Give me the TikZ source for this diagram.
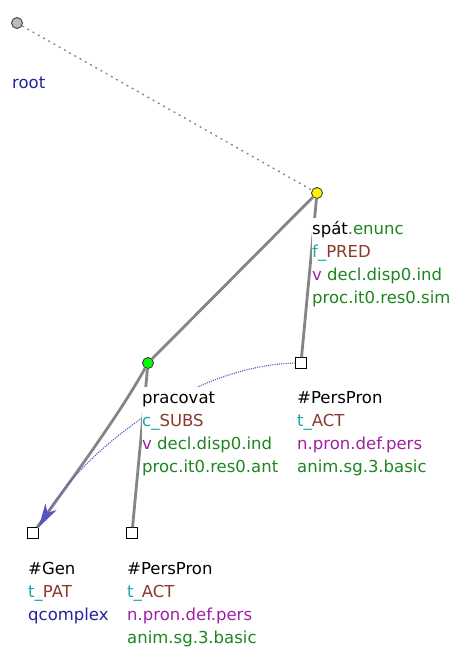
\documentclass[tikz,border=0pt]{standalone}
\usepackage{fontspec}
\setmainfont{DejaVu Sans}
\usepackage{xcolor}
\usepackage{tikz}
\usetikzlibrary{arrows.meta,backgrounds}
\pgfdeclarelayer{front}
\pgfsetlayers{background,main,front}
\definecolor{tgreen}{HTML}{1E861E}
\definecolor{tteal}{HTML}{1FA5A5}
\definecolor{tbrown}{HTML}{8A3A2C}
\definecolor{tpurple}{HTML}{A020A0}
\definecolor{tnavy}{HTML}{2222A0}
\definecolor{tedge}{HTML}{858585}
\definecolor{tcoref}{HTML}{5555C0}
\newcommand{\tfunc}[2]{\textcolor{tteal}{#1\_}\textcolor{tbrown}{#2}}
\tikzset{
  nd/.style={circle,draw=black!75,line width=0.9pt,minimum size=11pt,inner sep=0pt},
  sq/.style={rectangle,draw=black,fill=white,line width=0.9pt,minimum size=10.5pt,inner sep=0pt},
  edg/.style={draw=tedge,line width=2.8pt},
  rootln/.style={draw=tedge,line width=1.3pt,dash pattern=on 2pt off 4pt},
  coref/.style={draw=tcoref,line width=1.2pt,dash pattern=on 1pt off 1.2pt,
    -{Stealth[length=24pt,width=13pt,inset=7pt,fill=tcoref]}},
  lbl/.style={anchor=north west,inner sep=0pt,fill=white,align=left,font=\fontsize{16.5}{23}\selectfont}}

\begin{document}
\begin{tikzpicture}[x=1pt,y=-1pt]
\useasboundingbox (0,0) rectangle (453,648);
% tree nodes
\node[nd,fill=black!27] (root) at (17,23) {};
\node[nd,fill=yellow] (spat) at (317,193) {};
\node[nd,fill=green] (prac) at (148,363) {};
\node[sq] (pp1) at (301,363) {};
\node[sq] (gen) at (33,533) {};
\node[sq] (pp2) at (132,533) {};
% labels
\begin{pgfonlayer}{front}
\node[lbl] (rootl) at (12,72) {\strut\textcolor{tnavy}{root}};
\node[lbl] (spatl) at (312,218) {\strut spát\textcolor{tgreen}{.enunc}\\
  \tfunc{f}{PRED}\\
  \textcolor{tpurple}{v}\ \textcolor{tgreen}{decl.disp0.ind}\\
  \textcolor{tgreen}{proc.it0.res0.sim}};
\node[lbl] (pracl) at (142,387) {\strut pracovat\\
  \tfunc{c}{SUBS}\\
  \textcolor{tpurple}{v}\ \textcolor{tgreen}{decl.disp0.ind}\\
  \textcolor{tgreen}{proc.it0.res0.ant}};
\node[lbl] (pp1l) at (297,387) {\strut\#PersPron\\
  \tfunc{t}{ACT}\\
  \textcolor{tpurple}{n.pron.def.pers}\\
  \textcolor{tgreen}{anim.sg.3.basic}};
\node[lbl] (genl) at (28,558) {\strut\#Gen\\
  \tfunc{t}{PAT}\\
  \textcolor{tnavy}{qcomplex}};
\node[lbl] (pp2l) at (127,558) {\strut\#PersPron\\
  \tfunc{t}{ACT}\\
  \textcolor{tpurple}{n.pron.def.pers}\\
  \textcolor{tgreen}{anim.sg.3.basic}};
\end{pgfonlayer}
% edges
\draw[rootln] (root) -- (spat);
\draw[edg] (spat) -- (prac);
\draw[edg] (spat) -- (pp1);
\draw[edg] (prac) .. controls (122,410) and (80,468) .. (gen);
\draw[edg] (prac) -- (pp2);
\draw[coref] (pp1.west) .. controls (190,366) and (85,450) .. (gen.north east);
\end{tikzpicture}
\end{document}
